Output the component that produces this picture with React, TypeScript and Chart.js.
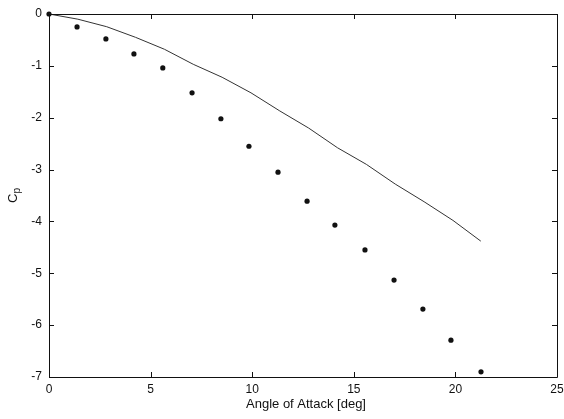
import React, { useEffect, useRef } from "react";
import { Chart, registerables } from "chart.js";

Chart.register(...registerables);

const measuredAlpha = [0, 1.38, 2.8, 4.18, 5.6, 7.04, 8.46, 9.84, 11.27, 12.7, 14.07, 15.55, 16.98, 18.4, 19.78, 21.26];
const measuredCp = [0, -0.25, -0.48, -0.77, -1.04, -1.52, -2.02, -2.55, -3.05, -3.61, -4.07, -4.55, -5.13, -5.69, -6.29, -6.9];

const predictedAlpha = [0, 1.42, 2.84, 4.26, 5.68, 7.1, 8.52, 9.94, 11.36, 12.78, 14.2, 15.62, 17.04, 18.46, 19.88, 21.25];
const predictedCp = [0, -0.1, -0.245, -0.45, -0.68, -0.97, -1.22, -1.52, -1.87, -2.2, -2.58, -2.9, -3.28, -3.62, -3.98, -4.38];

const xTicks = [0, 5, 10, 15, 20, 25];
const yTicks = [0, -1, -2, -3, -4, -5, -6, -7];
const xTitle = "Angle of Attack [deg]";
const yTitleMain = "C";
const yTitleSub = "p";

const FONT = "'Liberation Sans', Arial, sans-serif";

const framePlugin = {
  id: "matlabFrame",
  afterDraw(chart: any) {
    const { ctx, chartArea } = chart;
    const { left, right, top, bottom } = chartArea;
    const xs = chart.scales.x;
    const ys = chart.scales.y;
    ctx.save();
    ctx.strokeStyle = "#111";
    ctx.lineWidth = 1;
    ctx.beginPath();
    ctx.rect(Math.round(left) + 0.5, Math.round(top) + 0.5, Math.round(right - left), Math.round(bottom - top));
    ctx.stroke();
    const tl = 5;
    ctx.beginPath();
    xTicks.forEach((v) => {
      const px = Math.round(xs.getPixelForValue(v)) + 0.5;
      ctx.moveTo(px, bottom);
      ctx.lineTo(px, bottom - tl);
      ctx.moveTo(px, top);
      ctx.lineTo(px, top + tl);
    });
    yTicks.forEach((v) => {
      const py = Math.round(ys.getPixelForValue(v)) + 0.5;
      ctx.moveTo(left, py);
      ctx.lineTo(left + tl, py);
      ctx.moveTo(right, py);
      ctx.lineTo(right - tl, py);
    });
    ctx.stroke();

    // x title
    ctx.fillStyle = "#111";
    ctx.font = `13px ${FONT}`;
    ctx.textAlign = "center";
    ctx.textBaseline = "middle";
    ctx.fillText(xTitle, (left + right) / 2 + 3, 404);

    // y title (rotated, with subscript)
    ctx.translate(13, (top + bottom) / 2);
    ctx.rotate(-Math.PI / 2);
    ctx.textAlign = "left";
    ctx.textBaseline = "middle";
    ctx.font = `13px ${FONT}`;
    const wMain = ctx.measureText(yTitleMain).width;
    ctx.font = `10px ${FONT}`;
    const wSub = ctx.measureText(yTitleSub).width;
    const start = -(wMain + wSub) / 2;
    ctx.font = `13px ${FONT}`;
    ctx.fillText(yTitleMain, start, 0);
    ctx.font = `10px ${FONT}`;
    ctx.fillText(yTitleSub, start + wMain, 4);
    ctx.restore();
  },
};

export default function App() {
  const ref = useRef<HTMLCanvasElement | null>(null);
  useEffect(() => {
    if (!ref.current) return;
    const chart = new Chart(ref.current, {
      type: "scatter",
      data: {
        datasets: [
          {
            label: "Predicted",
            data: predictedAlpha.map((x, i) => ({ x, y: predictedCp[i] })),
            showLine: true,
            borderColor: "#333",
            borderWidth: 1,
            pointRadius: 0,
            fill: false,
            tension: 0,
            clip: false as any,
          },
          {
            label: "Measured",
            data: measuredAlpha.map((x, i) => ({ x, y: measuredCp[i] })),
            showLine: false,
            pointRadius: 2.6,
            pointBackgroundColor: "#111",
            pointBorderColor: "#111",
            pointBorderWidth: 0,
            clip: false as any,
          },
        ],
      },
      options: {
        responsive: false,
        animation: false,
        layout: { padding: { top: 14, right: 0, left: 0, bottom: 0 } },
        plugins: {
          legend: { display: false },
          tooltip: { enabled: false },
        },
        scales: {
          x: {
            type: "linear",
            min: 0,
            max: 25,
            afterBuildTicks: (s: any) => {
              s.ticks = xTicks.map((v) => ({ value: v }));
            },
            afterFit: (s: any) => {
              s.height = 42;
              s.paddingRight = 7;
              s.paddingLeft = 0;
            },
            grid: { display: false, drawTicks: false },
            border: { display: false },
            ticks: {
              padding: 5,
              color: "#111",
              font: { family: FONT, size: 12 },
              callback: (v: any) => String(v),
            },
          },
          y: {
            type: "linear",
            min: -7,
            max: 0,
            afterBuildTicks: (s: any) => {
              s.ticks = yTicks.map((v) => ({ value: v }));
            },
            afterFit: (s: any) => {
              s.width = 49;
              s.paddingTop = 0;
              s.paddingBottom = 0;
            },
            grid: { display: false, drawTicks: false },
            border: { display: false },
            ticks: {
              padding: 7,
              color: "#111",
              font: { family: FONT, size: 12 },
              callback: (v: any) => String(v),
            },
          },
        },
      },
      plugins: [framePlugin],
    });
    return () => chart.destroy();
  }, []);
  return (
    <div style={{ position: "absolute", left: 0, top: 0, width: 564, height: 419, background: "#fff" }}>
      <canvas ref={ref} width={564} height={419} style={{ display: "block" }} />
    </div>
  );
}
